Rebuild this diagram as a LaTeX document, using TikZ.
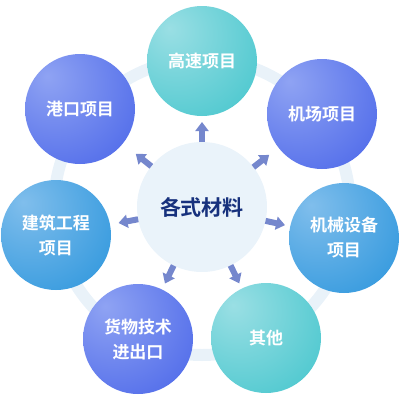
\documentclass[tikz,border=0pt]{standalone}
\usepackage{fontspec}
\newfontfamily\cjk[BoldFont={Noto Sans CJK SC Bold}]{Noto Sans CJK SC}
\usetikzlibrary{arrows.meta,calc}

\definecolor{mteal}{HTML}{2CBEC6}
\definecolor{mtealhi}{HTML}{9ADFE4}
\definecolor{mviol}{HTML}{3755E6}
\definecolor{mviolhi}{HTML}{8FA3F3}
\definecolor{msky}{HTML}{148AD8}
\definecolor{mskyhi}{HTML}{80BEEC}
\definecolor{mring}{HTML}{E9F2F9}
\definecolor{mcfill}{HTML}{EAF3FA}
\definecolor{marrow}{HTML}{7587CD}
\definecolor{mnavy}{HTML}{17317D}

\pgfdeclareradialshading{mshteal}{\pgfpoint{-15bp}{15bp}}{color(0bp)=(mtealhi); color(60bp)=(mteal); color(100bp)=(mteal)}
\pgfdeclareradialshading{mshviol}{\pgfpoint{-15bp}{15bp}}{color(0bp)=(mviolhi); color(60bp)=(mviol); color(100bp)=(mviol)}
\pgfdeclareradialshading{mshsky}{\pgfpoint{-15bp}{15bp}}{color(0bp)=(mskyhi); color(60bp)=(msky); color(100bp)=(msky)}

\tikzset{mcen/.style={circle,fill=mcfill,minimum size=130pt,inner sep=0pt,outer sep=0pt,
            font=\cjk\bfseries\fontsize{21pt}{25pt}\selectfont,text=mnavy},
         msat/.style={circle,shading=#1,minimum size=110pt,inner sep=0pt,outer sep=0pt,align=center,
            font=\cjk\bfseries\fontsize{17pt}{25pt}\selectfont,text=white},
         mringline/.style={draw=mring,line width=12pt},
         marr/.style={draw=marrow,line width=6pt,-{Triangle[width=13pt,length=9pt]}}}

\begin{document}
\begin{tikzpicture}[x=1pt,y=-1pt]
    \useasboundingbox (0,0) rectangle (400,400);
    \node[mcen] (cen) at (202,207) {各式材料};
    \draw[mringline] (cen) circle[radius=148pt];
    \foreach \n/\p/\s/\t in {hw/{202,61}/mshteal/高速项目, ap/{322,114}/mshviol/机场项目,
        pt/{80,109}/mshviol/港口项目, mc/{344,238}/mshsky/{机械设备\\项目},
        bd/{56,235}/mshsky/{建筑工程\\项目}, tr/{138,339}/mshviol/{货物技术\\进出口},
        ot/{266,338}/mshteal/其他}
      \node[msat=\s] (\n) at (\p) {\t};
    \foreach \n in {hw,ap,mc,ot,tr,bd,pt} {\coordinate (e\n) at ($(cen)!85pt!(\n)$); \draw[marr] (cen) -- (e\n);}
\end{tikzpicture}
\end{document}
